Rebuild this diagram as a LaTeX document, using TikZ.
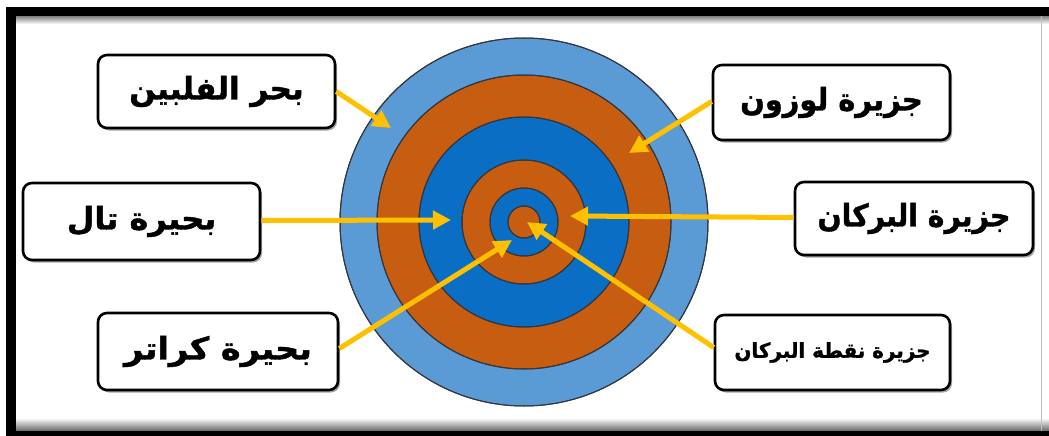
\documentclass[tikz,border=0pt]{standalone}
\usepackage{fontspec}
\TeXXeTstate=1
\newfontfamily\arabicfont[Script=Arabic, BoldFeatures={FakeBold=1.3}]{DejaVu Sans}
\usetikzlibrary{arrows.meta,shadows}
\definecolor{ltblue}{HTML}{5B9BD5}
\definecolor{dkblue}{HTML}{0A6FC4}
\definecolor{rust}{HTML}{C75D10}
\definecolor{gold}{HTML}{FFC000}
\definecolor{ringline}{HTML}{33363D}
\tikzset{
  lbl/.style={draw=black, line width=2.6pt, rounded corners=9pt, fill=white,
    inner sep=0pt,
    drop shadow={shadow xshift=2pt, shadow yshift=-2.5pt, opacity=0.35, fill=black},
    font=\arabicfont\bfseries\fontsize{31}{36}\selectfont},
  smalllbl/.style={lbl, font=\arabicfont\bfseries\fontsize{20.5}{25}\selectfont},
  ring/.style={draw=ringline, line width=1pt},
  goldarrow/.style={draw=gold, line width=5pt,
    -{Triangle[length=18pt,width=18pt]}},
}
\begin{document}
\begin{tikzpicture}[x=1pt,y=-1pt]
\useasboundingbox (0,0) rectangle (1049,436);
\fill[white] (0,0) rectangle (1049,436);
% frame
\shade[top color=black!50, bottom color=white] (16,16) rectangle (1049,24);
\shade[top color=white, bottom color=black!60] (16,418) rectangle (1049,431);
\draw[black!25, line width=1pt] (1041,16) -- (1041,431);
\fill[black] (6,7) rectangle (1049,16);
\fill[black] (6,7) rectangle (16,436);
\fill[black] (6,431) rectangle (1049,436);
% target
\coordinate (c) at (524,222);
\fill[ring, fill=ltblue] (c) circle[radius=184];
\fill[ring, fill=rust] (c) circle[radius=147];
\fill[ring, fill=dkblue] (c) circle[radius=105];
\fill[ring, fill=rust] (c) circle[radius=62];
\fill[ring, fill=dkblue] (c) circle[radius=34];
\fill[ring, fill=rust] (c) circle[radius=16];
\draw[ring] (c) circle[radius=184];
\draw[ring] (c) circle[radius=147];
\draw[ring] (c) circle[radius=105];
\draw[ring] (c) circle[radius=62];
\draw[ring] (c) circle[radius=34];
\draw[ring] (c) circle[radius=16];
% labels
\node[lbl, minimum width=237pt, minimum height=73pt] (b1) at (216.5,91.5) {\beginR بحر الفلبين\endR};
\node[lbl, minimum width=237pt, minimum height=75pt] (b2) at (831.5,102.5) {\scalebox{0.93}[1]{\beginR جزيرة لوزون\endR}};
\node[lbl, minimum width=237pt, minimum height=77pt] (b3) at (141.5,221.5) {\scalebox{1.03}[1]{\beginR بحيرة تال\endR}};
\node[lbl, minimum width=238pt, minimum height=73pt] (b4) at (914,218.5) {\scalebox{0.91}[1]{\beginR جزيرة البركان\endR}};
\node[lbl, minimum width=240pt, minimum height=77pt] (b5) at (218,351.5) {\scalebox{1.08}[1]{\beginR بحيرة كراتر\endR}};
\node[smalllbl, minimum width=235pt, minimum height=75pt] (b6) at (832.5,352.5) {\scalebox{0.97}[1]{\beginR جزيرة نقطة البركان\endR}};
% arrow tips
\coordinate (t1) at (391,128);
\coordinate (t2) at (629,153);
\coordinate (t3) at (451,220);
\coordinate (t4) at (570,216);
\coordinate (t5) at (512,240);
\coordinate (t6) at (527,222);
\draw[goldarrow] (b1.east) -- (t1);
\draw[goldarrow] ([yshift=1pt]b2.west) -- (t2);
\draw[goldarrow] ([yshift=1pt]b3.east) -- (t3);
\draw[goldarrow] ([yshift=1pt]b4.west) -- (t4);
\draw[goldarrow] ([yshift=3pt]b5.east) -- (t5);
\draw[goldarrow] ([yshift=5pt]b6.west) -- (t6);
\end{tikzpicture}
\end{document}
